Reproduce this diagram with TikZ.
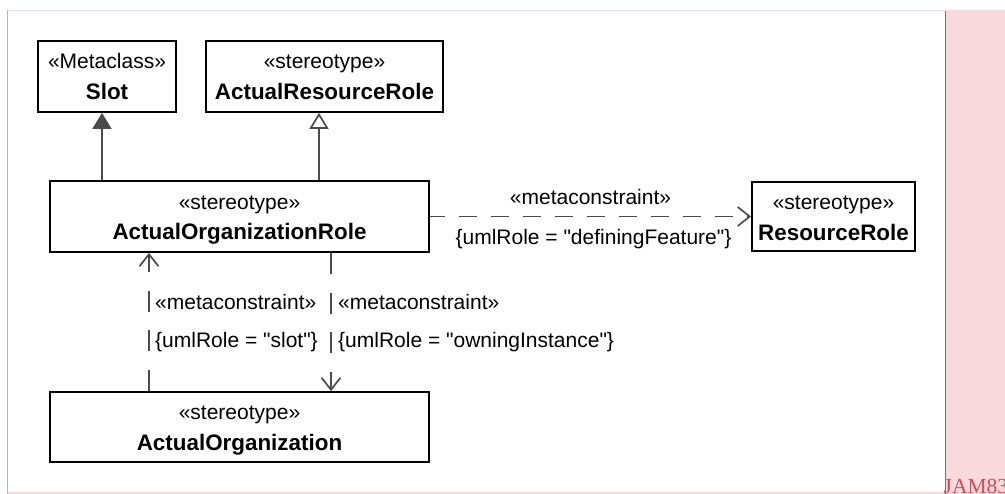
\documentclass[tikz,border=0pt]{standalone}
\usepackage{fontspec}
\setmainfont{Liberation Sans}[Ligatures=TeXOff]
\newfontfamily\tagfont{Liberation Serif}
\usetikzlibrary{arrows.meta,calc}
\definecolor{bgpink}{RGB}{248,218,221}
\definecolor{edgered}{RGB}{214,72,84}
\definecolor{edgepink}{RGB}{232,160,168}
\definecolor{linegray}{RGB}{75,75,75}
\begin{document}
\begin{tikzpicture}[x=1pt,y=-1pt,
  box/.style={draw=black, line width=1.8pt, fill=white, inner sep=0pt},
  stereo/.style={font=\fontsize{21}{25}\selectfont, inner sep=0pt, anchor=base},
  title/.style={font=\fontsize{22.4}{26}\selectfont\bfseries, inner sep=0pt, anchor=base},
  lbl/.style={font=\fontsize{21}{25}\selectfont, inner sep=0pt},
  conn/.style={draw=linegray, line width=1.7pt},
  gen/.style={conn, -{Triangle[length=16pt,width=19pt,fill=linegray]}},
  realize/.style={conn, -{Triangle[open,length=16pt,width=19pt,fill=white]}},
  dep/.style={conn, -{Straight Barb[length=12pt,width=19pt]}},
  vdash/.style={dash pattern=on 21pt off 18.67pt},
  hdash/.style={dash pattern=on 18pt off 14pt, dash phase=3pt}
]
\useasboundingbox (0,0) rectangle (1005,494);
% page background
\fill[white] (0,0) rectangle (1005,494);
\fill[bgpink] (7,10) rectangle (1005,494);
\fill[white] (8,11) rectangle (945,491.5);
\draw[edgepink, line width=1pt] (7.5,10) -- (7.5,494);
\draw[edgered, line width=1.2pt] (945.5,11) -- (945.5,494);
\node[font=\tagfont\fontsize{21.5}{24}\selectfont, text=edgered, anchor=base west, inner sep=0pt] (tag) at (943.5,493.5) {JAM83};

% boxes
\node[box, minimum width=138pt, minimum height=71pt] (slot) at (107,76.5) {};
\node[box, minimum width=237pt, minimum height=71pt] (arr) at (324.5,76.5) {};
\node[box, minimum width=379pt, minimum height=71pt] (aor) at (239.5,216.5) {};
\node[box, minimum width=163pt, minimum height=69pt] (rr) at (833.5,216.5) {};
\node[box, minimum width=379pt, minimum height=70pt] (ao) at (239.5,427) {};

% box texts
\node[stereo] (slots) at ($(slot.north)+(0,28)$) {«Metaclass»};
\node[title] (slott) at ($(slot.north)+(0,59)$) {Slot};
\node[stereo] (arrs) at ($(arr.north)+(0,28)$) {«stereotype»};
\node[title] (arrt) at ($(arr.north)+(0,59)$) {ActualResourceRole};
\node[stereo] (aors) at ($(aor.north)+(0,29)$) {«stereotype»};
\node[title] (aort) at ($(aor.north)+(0,59)$) {ActualOrganizationRole};
\node[stereo] (rrs) at ($(rr.north)+(0,28)$) {«stereotype»};
\node[title] (rrt) at ($(rr.north)+(0,59)$) {ResourceRole};
\node[stereo] (aos) at ($(ao.north)+(0,28)$) {«stereotype»};
\node[title] (aot) at ($(ao.north)+(0,59)$) {ActualOrganization};

% x positions of vertical connectors
\coordinate (xs) at (102,0);
\coordinate (xa) at (319,0);
\coordinate (xl) at (149,0);
\coordinate (xr) at (331,0);

% generalizations
\draw[gen] (aor.north -| xs) -- (slot.south -| xs);
\draw[realize] (aor.north -| xa) -- (arr.south -| xa);

% metaconstraint dependencies
\draw[dep, hdash] (aor.east) -- (rr.west);
\draw[dep, vdash] (ao.north -| xl) -- (aor.south -| xl);
\draw[dep, vdash] (aor.south -| xr) -- (ao.north -| xr);

% connector labels
\coordinate (hm) at ($(aor.east)!0.5!(rr.west)$);
\node[lbl, anchor=base] (hmc) at ($(hm)+(0,-11.5)$) {«metaconstraint»};
\node[lbl, anchor=base] (hrole) at ($(hm)+(3,28.5)$) {\{umlRole = "definingFeature"\}};
\node[lbl, anchor=base west] (lmc) at ($(aor.south -| xl)+(6,57)$) {«metaconstraint»};
\node[lbl, anchor=base west] (lrole) at ($(aor.south -| xl)+(6,95)$) {\{umlRole = "slot"\}};
\node[lbl, anchor=base west] (rmc) at ($(aor.south -| xr)+(7,57)$) {«metaconstraint»};
\node[lbl, anchor=base west] (rrole) at ($(aor.south -| xr)+(7,95)$) {\{umlRole = "owningInstance"\}};
\end{tikzpicture}
\end{document}
